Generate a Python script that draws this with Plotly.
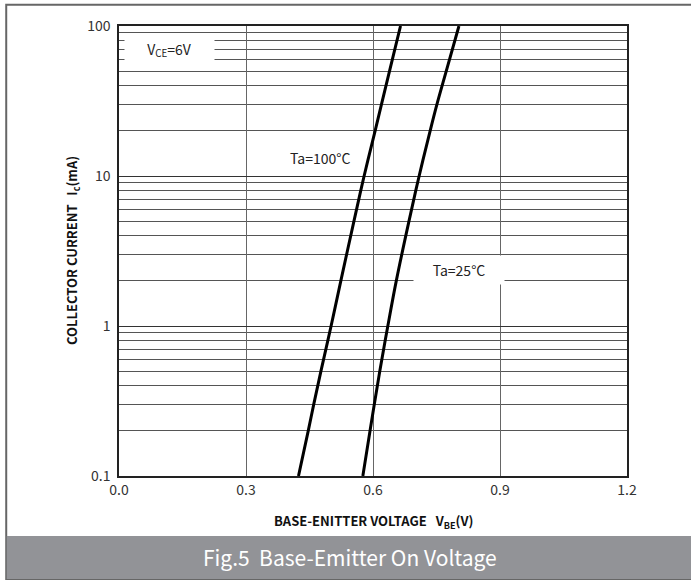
import plotly.graph_objects as go

# Data
current_ma = [0.1, 0.2, 0.3, 0.5, 1, 2, 5, 10, 20, 30, 50, 100]
vbe_100c = [0.424, 0.447, 0.460, 0.477, 0.501, 0.524, 0.555, 0.579, 0.605, 0.620, 0.639, 0.665]
vbe_25c = [0.576, 0.593, 0.603, 0.616, 0.635, 0.655, 0.685, 0.709, 0.735, 0.751, 0.773, 0.803]

x_ticks = [0.0, 0.3, 0.6, 0.9, 1.2]
x_ticktext = ["0.0", "0.3", "0.6", "0.9", "1.2"]
y_ticks = [0.1, 1, 10, 100]
y_ticktext = ["0.1", "1", "10", "100"]
y_minor = [m * d for d in [0.1, 1, 10] for m in range(2, 10)]

FONT = "Noto Sans CJK SC"

fig = go.Figure()
for v in [vbe_100c, vbe_25c]:
    fig.add_trace(go.Scatter(x=v, y=current_ma, mode="lines",
                             line=dict(color="black", width=3, shape="spline", smoothing=1.0),
                             showlegend=False, hoverinfo="skip"))

fig.update_layout(
    width=691, height=581,
    margin=dict(l=119, r=64, t=26, b=105),
    paper_bgcolor="white", plot_bgcolor="white",
    font=dict(family=FONT, color="#333", size=14),
    xaxis=dict(range=[0, 1.2], tickvals=x_ticks, ticktext=x_ticktext,
               showgrid=True, gridcolor="#666", gridwidth=1.3,
               showline=True, linecolor="#222", linewidth=1.5, mirror=True,
               ticks="", zeroline=False, tickfont=dict(size=14, color="#333")),
    yaxis=dict(type="log", range=[-1, 2], tickvals=y_ticks, ticktext=y_ticktext,
               showgrid=True, gridcolor="#333", gridwidth=1.2,
               minor=dict(tickvals=y_minor, showgrid=True, gridcolor="#555", gridwidth=1.2, ticks=""),
               showline=True, linecolor="#222", linewidth=1.5, mirror=True,
               ticks="", zeroline=False, ticklabelstandoff=4,
               tickfont=dict(size=14, color="#333")),
)

# Outer frame and caption bar
fig.add_shape(type="rect", xref="paper", yref="paper",
              x0=-0.222, x1=1.2, y0=-0.2289, y1=1.0473,
              line=dict(color="#666", width=2), fillcolor="rgba(0,0,0,0)", layer="below")
fig.add_shape(type="rect", xref="paper", yref="paper",
              x0=-0.221, x1=1.2, y0=-0.2289, y1=-0.1333,
              line=dict(width=0), fillcolor="#929397", layer="above")

fig.add_annotation(xref="paper", yref="paper", x=0.4547, y=-0.181,
                   xanchor="center", yanchor="middle",
                   text="Fig.5  Base-Emitter On Voltage", showarrow=False,
                   font=dict(family=FONT, size=21, color="white"))

# Axis titles
fig.add_annotation(xref="paper", yref="paper", x=0.5, y=-0.101,
                   xanchor="center", yanchor="middle",
                   text="<b>BASE-ENITTER VOLTAGE   V<sub>BE</sub>(V)</b>", showarrow=False,
                   font=dict(family=FONT, size=13, color="#111"))
fig.add_annotation(xref="paper", yref="paper", x=-0.0925, y=0.5, textangle=-90,
                   xanchor="center", yanchor="middle",
                   text="<b>COLLECTOR CURRENT   I<sub>c</sub>(mA)</b>", showarrow=False,
                   font=dict(family=FONT, size=13, color="#111"))

# In-plot labels
fig.add_annotation(x=0.120, y=1.843, xref="x", yref="y",
                   text="V<sub>CE</sub>=6V", showarrow=False, bgcolor="white",
                   width=87, height=25, font=dict(family=FONT, size=14, color="#222"))
fig.add_annotation(x=0.474, y=1.12, xref="x", yref="y",
                   text="Ta=100°C", showarrow=False,
                   font=dict(family=FONT, size=14, color="#222"))
fig.add_annotation(x=0.8025, y=0.373, xref="x", yref="y",
                   text="Ta=25°C", showarrow=False, bgcolor="white",
                   width=88, height=26, font=dict(family=FONT, size=14, color="#222"))

fig.write_html("out.html", config={"displayModeBar": False},
               post_script="document.body.style.margin='0';document.documentElement.style.overflow='hidden';")
